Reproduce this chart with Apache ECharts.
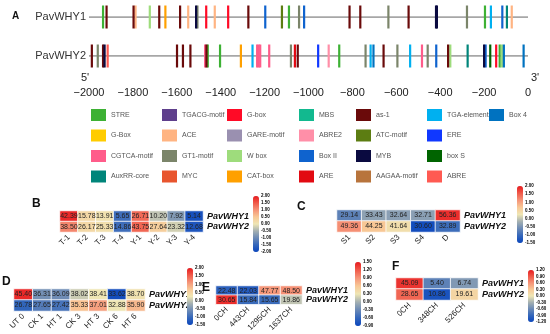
<!DOCTYPE html>
<html><head><meta charset="utf-8">
<script src="https://cdn.jsdelivr.net/npm/echarts@6/dist/echarts.min.js"></script>
<style>html,body{margin:0;padding:0;background:#fff}#c{width:550px;height:334px}</style>
</head><body><div id="c"></div>
<script>
// ---------- Panel A data ----------
const genes = ['PavWHY2', 'PavWHY1'];
const promoterRange = [-2000, 0];
const motifNames = ['STRE','G-Box','CGTCA-motif','AuxRR-core','TGACG-motif','ACE','GT1-motif','MYC','G-box','GARE-motif','W box','CAT-box','MBS','ABRE2','Box II','ARE','as-1','ATC-motif','MYB','AAGAA-motif','TGA-element','ERE','box S','ABRE','Box 4'];
const motifColors = ['#3db134','#ffcc00','#ff5c8a','#00857a','#5f3f8c','#ffb482','#7b856a','#e8552e','#ff0a26','#9a90b0','#9edc7c','#ffa000','#12b98f','#ff8fa8','#0f63ce','#e20a12','#6a0a0a','#5c7d12','#0a0a40','#b8743c','#00b0f0','#1038ff','#006400','#ff5a52','#0072c0'];
const why1Sites = [[-1936,'STRE'],[-1920,'as-1'],[-1797,'as-1'],[-1788,'ACE'],[-1723,'W box'],[-1680,'as-1'],[-1652,'CAT-box'],[-1585,'as-1'],[-1548,'ACE'],[-1512,'MYB'],[-1506,'GT1-motif'],[-1466,'G-box'],[-1427,'ACE'],[-1366,'G-box'],[-1274,'as-1'],[-1197,'Box II'],[-1121,'ATC-motif'],[-1089,'STRE'],[-1043,'GT1-motif'],[-1020,'Box II'],[-813,'as-1'],[-764,'as-1'],[-636,'GT1-motif'],[-544,'as-1'],[-419,'MYB'],[-415,'MYB'],[-278,'GT1-motif'],[-196,'STRE'],[-169,'TGA-element'],[-117,'Box II'],[-96,'AuxRR-core'],[-74,'ACE']];
const why2Sites = [[-1987,'as-1'],[-1960,'GT1-motif'],[-1936,'as-1'],[-1929,'MYB'],[-1915,'ABRE'],[-1599,'as-1'],[-1572,'as-1'],[-1538,'as-1'],[-1471,'CGTCA-motif'],[-1465,'as-1'],[-1459,'STRE'],[-1403,'STRE'],[-1308,'CAT-box'],[-1255,'TGA-element'],[-1234,'CGTCA-motif'],[-1227,'CGTCA-motif'],[-1220,'CGTCA-motif'],[-1179,'CGTCA-motif'],[-1080,'GT1-motif'],[-1062,'ARE'],[-1049,'as-1'],[-956,'ERE'],[-908,'ABRE2'],[-860,'STRE'],[-740,'GT1-motif'],[-717,'TGA-element'],[-704,'Box 4'],[-658,'as-1'],[-595,'GT1-motif'],[-537,'TGA-element'],[-483,'CGTCA-motif'],[-457,'GT1-motif'],[-418,'Box II'],[-364,'as-1'],[-354,'W box'],[-275,'AuxRR-core'],[-200,'MYB'],[-193,'Box II'],[-172,'box S'],[-145,'G-box'],[-129,'STRE'],[-119,'W box'],[-110,'Box 4'],[-20,'Box 4']];

// ---------- Heatmap data (raw values shown in cells, colour = row-scaled value) ----------
const rows = ['PavWHY2', 'PavWHY1'];
const bCats = ['T-1','T-2','T-3','T-4','Y-1','Y-2','Y-3','Y-4'];
const bWhy1 = [42.39,15.78,13.91,5.65,26.71,10.20,7.92,5.14];
const bWhy2 = [38.50,26.17,25.33,14.86,43.75,27.64,23.32,12.68];
const bScale1 = [1.88,0.24,0.08,-1.4,1.36,-0.32,-0.8,-1.84];
const bScale2 = [1.12,0.24,0.12,-1.4,1.4,0.4,-0.2,-1.76];
const bRange = [-2, 2, 0.5];

const cCats = ['S1','S2','S3','S4','D'];
const cWhy1 = [29.14,33.43,32.64,32.71,56.36];
const cWhy2 = [49.36,44.25,41.64,30.60,32.89];
const cScale1 = [-0.73,-0.35,-0.38,-0.38,1.86];
const cScale2 = [1.16,0.7,0.36,-1.4,-0.98];
const cRange = [-1.5, 2, 0.5];

const dCats = ['UT 0','CK 1','HT 1','CK 3','HT 3','CK 6','HT 6'];
const dWhy1 = [45.40,36.31,36.09,38.02,38.41,33.62,38.70];
const dWhy2 = [26.78,27.65,27.42,35.33,37.01,32.88,35.90];
const dScale1 = [1.9,-0.55,-0.59,0.04,0.25,-1.4,0.32];
const dScale2 = [-1.08,-0.8,-0.9,0.74,1.02,0.25,0.81];
const dRange = [-1.5, 2, 0.5];

const eCats = ['0CH','443CH','1295CH','1637CH'];
const eWhy1 = [22.48,22.03,47.77,48.50];
const eWhy2 = [30.65,15.84,15.65,19.86];
const eScale1 = [-0.66,-0.71,0.88,0.92];
const eScale2 = [1.4,-0.56,-0.56,0.11];
const eRange = [-0.9, 1.5, 0.3];

const fCats = ['0CH','348CH','526CH'];
const fWhy1 = [45.09,5.40,6.74];
const fWhy2 = [28.65,10.86,19.61];
const fScale1 = [1.08,-0.67,-0.48];
const fScale2 = [0.84,-1.08,0.17];
const fRange = [-1.2, 1.2, 0.3];

// ---------- styles / layout ----------
const FONT = 'Liberation Sans, Arial, sans-serif';
const heatColors = ['#0a46be','#3366bb','#6a89b6','#a4b0b2','#efe6b4','#f8c896','#f59478','#f05a4a','#e81a1e'];

const chart = echarts.init(document.getElementById('c'), null, {renderer:'canvas'});
const option = {
  animation:false,
  backgroundColor:'#fff',
  textStyle:{fontFamily:FONT},
  grid:[], xAxis:[], yAxis:[], series:[], visualMap:[], legend:[], graphic:[]
};

// Panel A grid
option.grid.push({left:89, right:22, top:17, height:39});
option.xAxis.push({type:'value', gridIndex:0, min:promoterRange[0], max:promoterRange[1], interval:200, offset:26,
  axisLine:{lineStyle:{color:'#777', width:1}}, axisTick:{length:5, lineStyle:{color:'#777'}},
  splitLine:{show:false},
  axisLabel:{fontSize:11, color:'#222', margin:5, fontFamily:FONT, formatter:v => v < 0 ? '\u2212' + Math.abs(v) : String(v)}});
option.yAxis.push({type:'category', gridIndex:0, data:genes, boundaryGap:false,
  axisLine:{show:false}, axisTick:{show:false}, splitLine:{show:false},
  axisLabel:{fontSize:11, color:'#333', margin:3, fontFamily:FONT, interval:0}});
// baselines
genes.forEach(g => {
  option.series.push({type:'line', xAxisIndex:0, yAxisIndex:0, symbol:'none', silent:true, z:1,
    lineStyle:{color:'#8a8a8a', width:1.5},
    data:[[promoterRange[0], g],[promoterRange[1], g]]});
});
// motif sites, one series per motif type
motifNames.forEach((name, i) => {
  const data = [];
  why1Sites.forEach(s => { if (s[1] === name) data.push([s[0], 'PavWHY1']); });
  why2Sites.forEach(s => { if (s[1] === name) data.push([s[0], 'PavWHY2']); });
  option.series.push({type:'custom', name, xAxisIndex:0, yAxisIndex:0, z:3,
    itemStyle:{color:motifColors[i]},
    renderItem:(params, api) => {
      const p = api.coord([api.value(0), api.value(1)]);
      return {type:'rect', shape:{x:p[0]-1.1, y:p[1]-11.5, width:2.2, height:23}, style:{fill:api.visual('color')}};
    },
    data});
});
// legend: 7 columns x 4 rows
const legendCols = [91, 162, 227, 299, 356, 427, 489];
legendCols.forEach((x, c) => {
  option.legend.push({orient:'vertical', left:x, top:109, padding:0, itemWidth:15, itemHeight:12, itemGap:8.5,
    icon:'rect', selectedMode:false, textStyle:{fontSize:7, color:'#555', fontFamily:FONT},
    data:motifNames.slice(c*4, c*4+4)});
});

// heatmap panels
const panels = [
  {cats:bCats, w1:bWhy1, w2:bWhy2, s1:bScale1, s2:bScale2, range:bRange, grid:{left:60, top:211, width:143, height:21}, bar:{x:253, y:196, h:56}},
  {cats:cCats, w1:cWhy1, w2:cWhy2, s1:cScale1, s2:cScale2, range:cRange, grid:{left:337, top:210, width:123, height:22}, bar:{x:517, y:186, h:57}},
  {cats:dCats, w1:dWhy1, w2:dWhy2, s1:dScale1, s2:dScale2, range:dRange, grid:{left:14, top:289, width:131, height:22}, bar:{x:187, y:268, h:57}},
  {cats:eCats, w1:eWhy1, w2:eWhy2, s1:eScale1, s2:eScale2, range:eRange, grid:{left:216, top:286, width:86, height:22}, bar:{x:355, y:262, h:64}},
  {cats:fCats, w1:fWhy1, w2:fWhy2, s1:fScale1, s2:fScale2, range:fRange, grid:{left:396, top:278, width:82, height:22}, bar:{x:528, y:270, h:52}}
];
panels.forEach(p => {
  const gi = option.grid.length;
  option.grid.push(p.grid);
  option.xAxis.push({type:'category', gridIndex:gi, data:p.cats, axisLine:{show:false}, axisTick:{show:false}, splitLine:{show:false},
    axisLabel:{rotate:45, fontSize:8, color:'#222', margin:4, fontFamily:FONT, interval:0}});
  option.yAxis.push({type:'category', gridIndex:gi, data:rows, position:'right', axisLine:{show:false}, axisTick:{show:false}, splitLine:{show:false},
    axisLabel:{fontSize:9, fontWeight:'bold', fontStyle:'italic', color:'#111', margin:4, fontFamily:FONT, interval:0}});
  const data = [];
  p.cats.forEach((c, i) => {
    data.push([i, 1, p.s1[i], p.w1[i]]);
    data.push([i, 0, p.s2[i], p.w2[i]]);
  });
  const si = option.series.length;
  option.series.push({type:'heatmap', xAxisIndex:gi, yAxisIndex:gi, data,
    itemStyle:{borderColor:'#fff', borderWidth:0.8},
    label:{show:true, fontSize:7, color:'#222', fontFamily:FONT, formatter:q => q.data[3].toFixed(2)}});
  option.visualMap.push({type:'continuous', min:p.range[0], max:p.range[1], dimension:2, seriesIndex:si,
    calculable:false, show:true, orient:'vertical', left:p.bar.x, top:p.bar.y, itemWidth:6, itemHeight:p.bar.h, padding:0,
    text:null, hoverLink:false, inRange:{color:heatColors}});
  // colour bar tick labels
  const gj = option.grid.length;
  option.grid.push({left:p.bar.x, top:p.bar.y, width:6, height:p.bar.h});
  option.xAxis.push({type:'value', gridIndex:gj, show:false, min:0, max:1});
  option.yAxis.push({type:'value', gridIndex:gj, position:'right', min:p.range[0], max:p.range[1], interval:p.range[2],
    axisLine:{show:false}, axisTick:{show:false}, splitLine:{show:false},
    axisLabel:{fontSize:4.5, fontWeight:'bold', color:'#000', margin:2, fontFamily:FONT, formatter:v => v.toFixed(2)}});
});

// panel letters and strand ends
const letters = [['A',17,17,10],['B',38,205,12],['C',303,208,12],['D',8,283,12],['E',208,289,12],['F',398,268,12]];
letters.forEach(l => option.graphic.push({type:'text', left:l[1]-l[3]/2, top:l[2]-l[3]/2-1,
  style:{text:l[0], font:'bold '+l[3]+'px '+FONT, fill:'#111'}}));
option.graphic.push({type:'text', left:81, top:72, style:{text:"5'", font:'11px '+FONT, fill:'#222'}});
option.graphic.push({type:'text', left:531, top:72, style:{text:"3'", font:'11px '+FONT, fill:'#222'}});

chart.setOption(option);
</script>
</body></html>
